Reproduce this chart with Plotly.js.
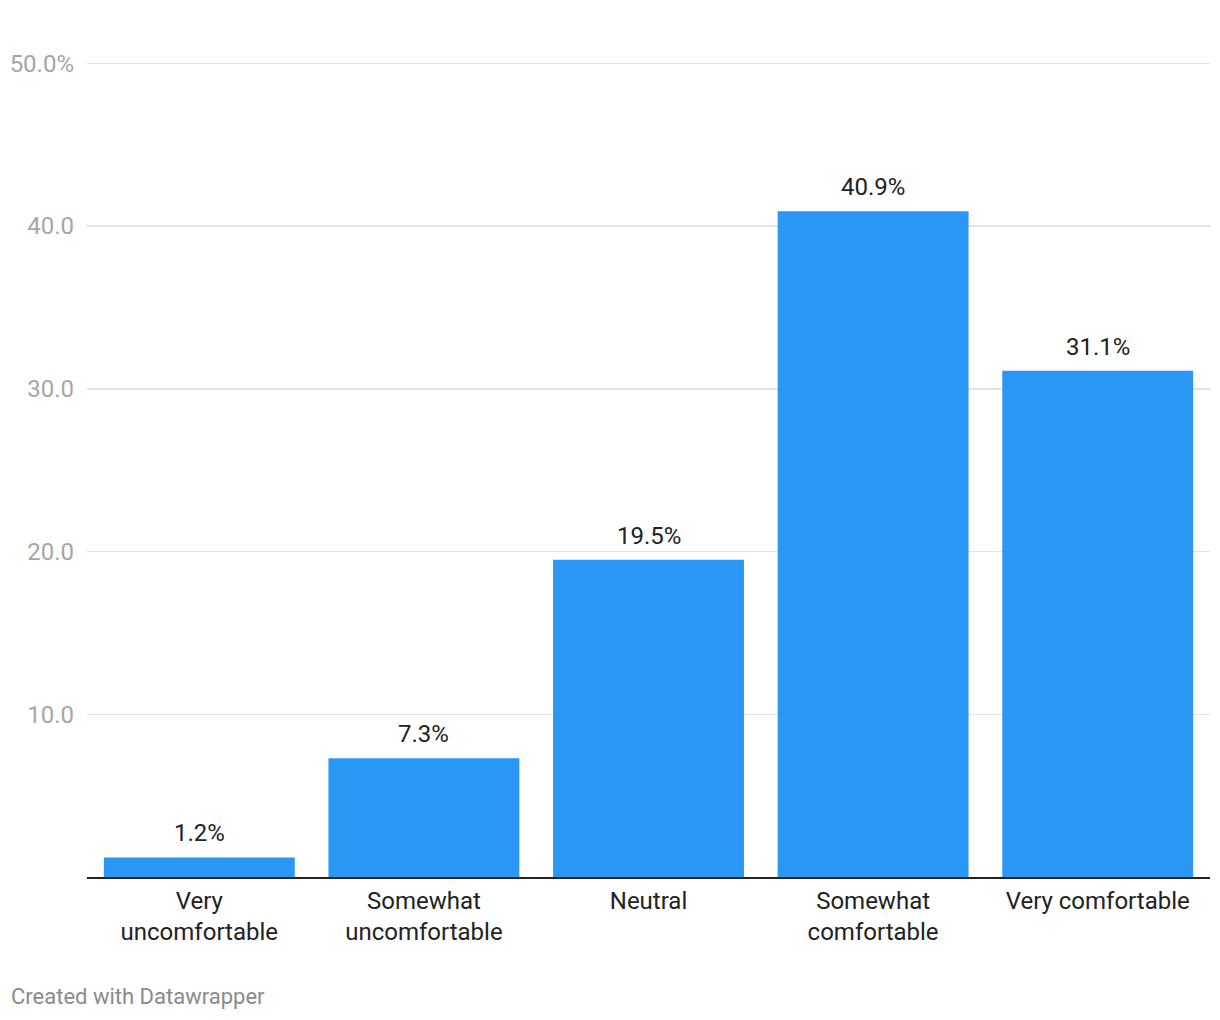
<!DOCTYPE html>
<html>
<head>
<meta charset="utf-8">
<script src="https://cdn.plot.ly/plotly-3.0.1.min.js"></script>
<style>html,body{margin:0;padding:0;background:#fff}#chart{width:1220px;height:1020px}</style>
</head>
<body>
<div id="chart"></div>
<script>
const categories = ["Very<br>uncomfortable", "Somewhat<br>uncomfortable", "Neutral", "Somewhat<br>comfortable", "Very comfortable"];
const values = [1.2, 7.3, 19.5, 40.9, 31.1];
const valueLabels = ["1.2%", "7.3%", "19.5%", "40.9%", "31.1%"];
const tickValues = [10, 20, 30, 40, 50];
const tickLabels = ["10.0", "20.0", "30.0", "40.0", "50.0%"];

const trace = {
  type: "bar",
  x: categories,
  y: values,
  marker: {color: "#2b97f5"},
  hoverinfo: "none"
};

const valueAnnotations = categories.map((c, i) => ({
  x: c, y: values[i], xref: "x", yref: "y",
  text: valueLabels[i],
  showarrow: false,
  xanchor: "center", yanchor: "middle", yshift: 24,
  font: {family: "Roboto", size: 24, color: "#222"}
}));

const layout = {
  width: 1220, height: 1020,
  margin: {l: 87, r: 10, t: 60, b: 143},
  paper_bgcolor: "#fff", plot_bgcolor: "#fff",
  bargap: 0.15,
  showlegend: false,
  font: {family: "Roboto", color: "#222"},
  xaxis: {
    showgrid: false,
    showline: true, linecolor: "#222", linewidth: 2,
    ticks: "", ticklabelstandoff: 1,
    tickfont: {family: "Roboto", size: 24, color: "#222"},
    fixedrange: true
  },
  yaxis: {
    range: [0, 50.2],
    tickvals: tickValues, ticktext: tickLabels,
    showgrid: true, gridcolor: "#e3e3e3", gridwidth: 1.5,
    zeroline: false, showline: false,
    ticks: "", ticklabelstandoff: 12,
    tickfont: {family: "Roboto", size: 24, color: "#a6a6a6"},
    fixedrange: true
  },
  annotations: valueAnnotations.concat([{
    text: "Created with Datawrapper",
    xref: "paper", yref: "paper",
    x: 0, xshift: -78, y: 0, yshift: -119,
    xanchor: "left", yanchor: "middle",
    showarrow: false,
    font: {family: "Roboto", size: 22, color: "#8a8a8a"}
  }])
};

Plotly.newPlot("chart", [trace], layout, {displayModeBar: false, staticPlot: true});
</script>
</body>
</html>
